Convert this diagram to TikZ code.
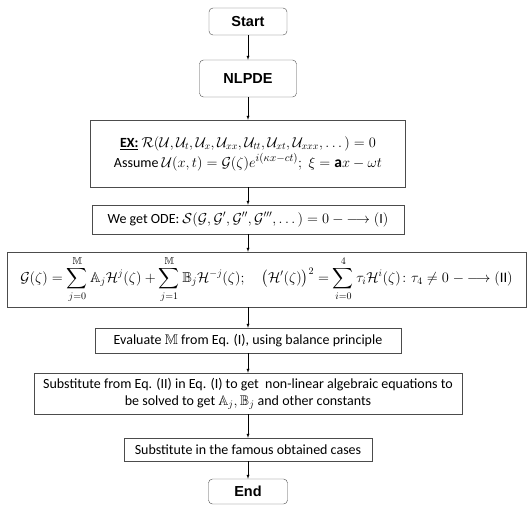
\documentclass[tikz,border=0pt]{standalone}
\usepackage{amsmath}
\usepackage{amssymb}
\usepackage{fontspec}
\setmainfont{Carlito}
\newfontfamily\arialfont{Liberation Sans}
\definecolor{rahmen}{rgb}{0.3,0.3,0.3}
\newcommand{\pfeilzu}{\mathord{-}\mkern-1mu\longrightarrow}

\begin{document}
\begin{tikzpicture}[>=latex, x=1pt, y=-1pt,
  endpunkt/.style={draw=rahmen, rounded corners=4pt, font=\arialfont\bfseries\fontsize{14.5}{17}\selectfont, inner sep=0pt},
  schritt/.style={draw=rahmen, align=center, inner sep=0pt, font=\fontsize{14}{17}\selectfont}]

\useasboundingbox (0,0) rectangle (532,512);

% Anfang und Ende
\node[endpunkt, minimum width=78pt, minimum height=27pt] (start) at (248,21.5) {Start};
\node[endpunkt, minimum width=97pt, minimum height=37pt] (nlpde) at (248,78.5) {NLPDE};
\node[endpunkt, minimum width=79pt, minimum height=25pt] (ende) at (248,491.5) {End};

% Gleichung und Ansatz
\node[schritt, minimum width=315pt, minimum height=67pt] (ansatz) at (248,153.5)
  {\underline{\textbf{EX:}} $\mathcal{R}(\mathcal{U},\mathcal{U}_t,\mathcal{U}_x,\mathcal{U}_{xx},\mathcal{U}_{tt},\mathcal{U}_{xt},\mathcal{U}_{xxx},\dots)=0$\\[2pt]
   Assume {\fontsize{15.5}{18}\selectfont$\mathcal{U}(x,t)=\mathcal{G}(\zeta)e^{i(\kappa x-ct)};\;\xi=\mathbf{a}x-\omega t$}};
\node[schritt, minimum width=312pt, minimum height=29pt] (ode) at (248,219.5)
  {We get ODE: $\mathcal{S}(\mathcal{G},\mathcal{G}',\mathcal{G}'',\mathcal{G}''',\dots)=0\ \pfeilzu(\mathrm{I})$};
\node[schritt, minimum width=519pt, minimum height=55pt, font=\fontsize{14.5}{17}\selectfont] (reihe) at (266.5,279.5)
  {$\displaystyle\mathcal{G}(\zeta)=\sum_{j=0}^{\mathbb{M}}\mathbb{A}_j\mathcal{H}^j(\zeta)+\sum_{j=1}^{\mathbb{M}}\mathbb{B}_j\mathcal{H}^{-j}(\zeta);\quad\big(\mathcal{H}'(\zeta)\big)^2=\sum_{i=0}^{4}\tau_i\mathcal{H}^i(\zeta)\colon\tau_4\neq0\;\pfeilzu(\mathrm{II})$};

% weitere Schritte
\node[schritt, minimum width=306pt, minimum height=25pt] (balance) at (248,340.5)
  {Evaluate $\mathbb{M}$ from Eq. (I), using balance principle};
\node[schritt, minimum width=428pt, minimum height=41pt] (algebra) at (248,393.5)
  {Substitute from Eq. (II) in Eq. (I) to get \ non-linear algebraic equations to\\
   be solved to get $\mathbb{A}_j,\mathbb{B}_j$ and other constants};
\node[schritt, minimum width=248pt, minimum height=23pt] (faelle) at (248,449.5)
  {Substitute in the famous obtained cases};

% Pfeile
\draw[->] (start) -- (nlpde);
\draw[->] (nlpde) -- (ansatz);
\draw[->] (ansatz) -- (ode);
\draw[->] (ode.south) -- (ode.south |- reihe.north);
\draw[->] (balance.north |- reihe.south) -- (balance.north);
\draw[->] (balance) -- (algebra);
\draw[->] (algebra) -- (faelle);
\draw[->] (faelle) -- (ende);

\end{tikzpicture}
\end{document}
